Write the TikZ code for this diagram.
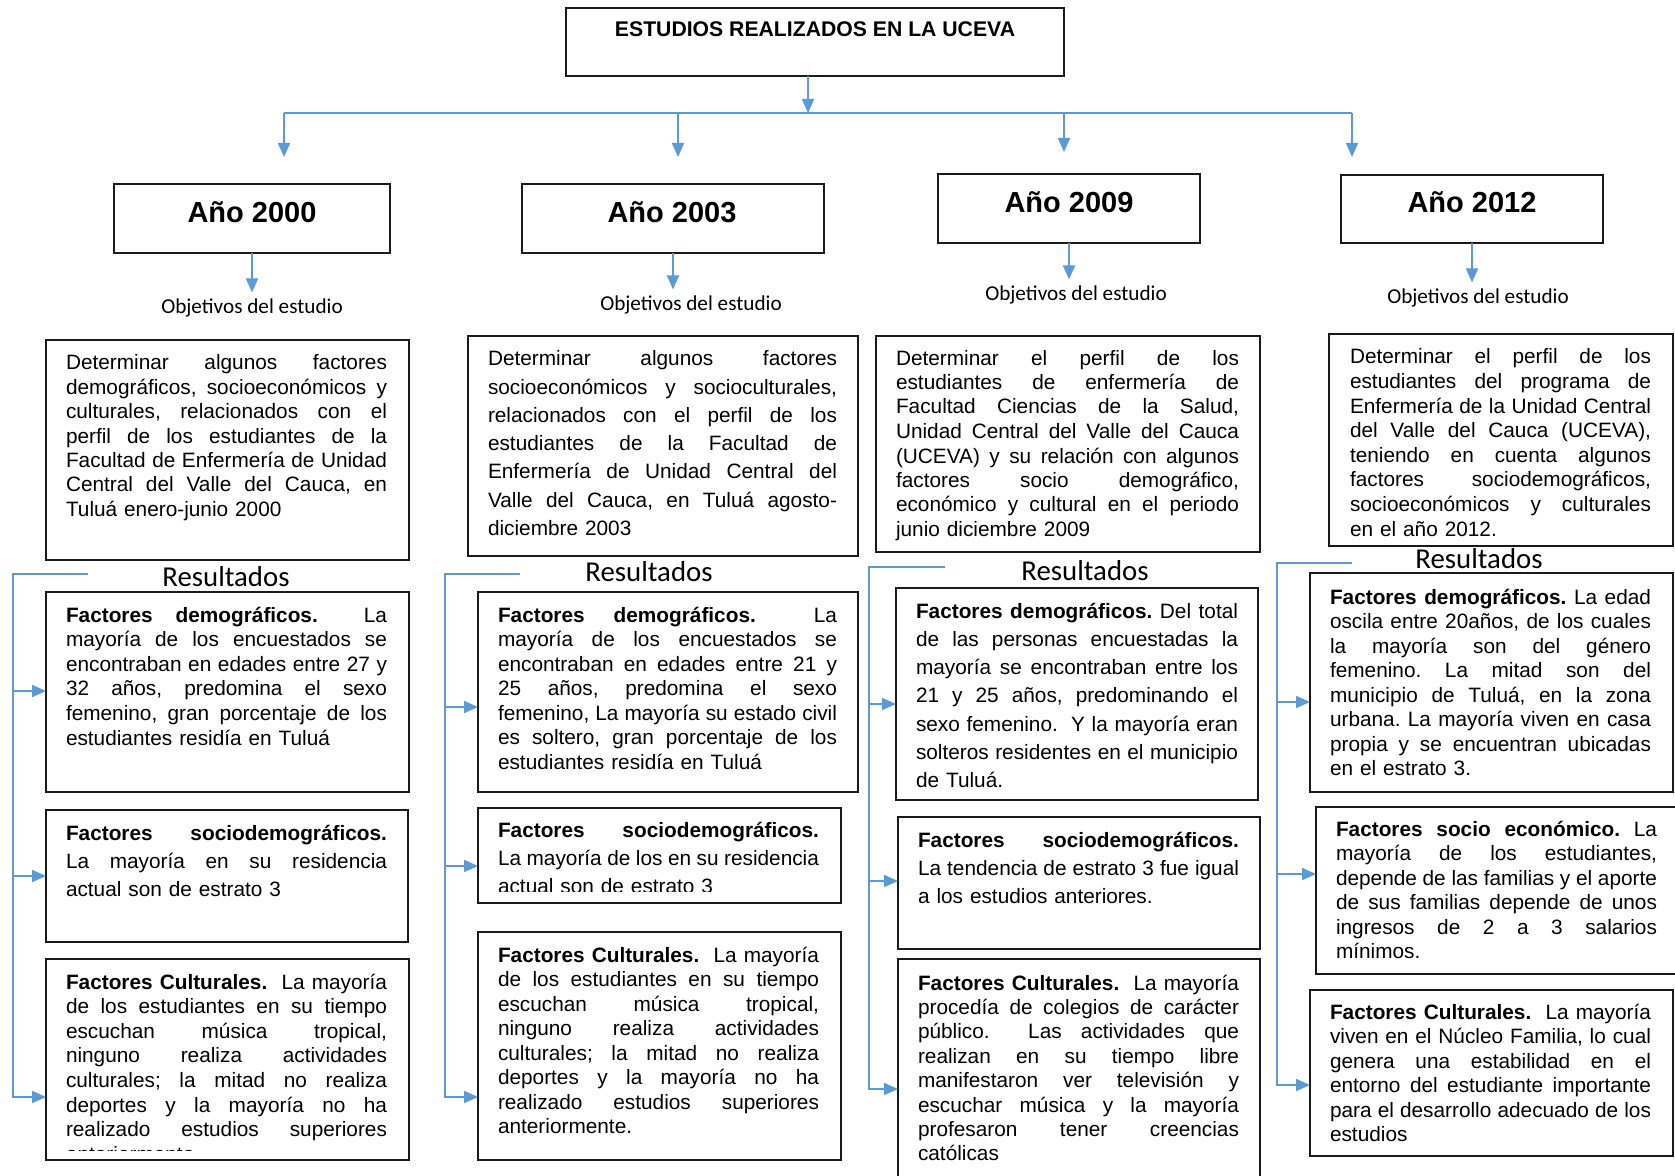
\documentclass[tikz,border=0pt]{standalone}
\usepackage{fontspec}
\setmainfont{Liberation Sans}
\newfontfamily\calib{Carlito}
\usetikzlibrary{arrows.meta}
\definecolor{bl}{HTML}{5B9BD5}
\definecolor{ink}{HTML}{1A1A1A}
\newlength{\jw}
\newcommand{\jline}[1]{\makebox[\jw][s]{\spaceskip=0.278em plus 2em minus 0.06em\relax #1}\\}
\newcommand{\jfirst}[1]{\rule{0pt}{10pt}\jline{#1}}
\newcommand{\drbox}[5]{\node[boxr, minimum width={(#4-#2)*0.5pt}, minimum height={(#5-#3)*0.5pt}] (#1) at (#2,#3) {};}
\tikzset{
  boxr/.style={draw=ink, line width=0.9pt, inner sep=0pt, outer sep=0pt, anchor=north west},
  txt/.style 2 args={inner sep=0pt, outer sep=0pt, anchor=north west, text width=#1,
    execute at begin node={\setlength{\jw}{#1}\frenchspacing},
    font=\fontsize{10.4}{#2}\selectfont},
  yr/.style={font=\fontsize{14.5}{17}\selectfont\bfseries, inner sep=0pt},
  obj/.style={font=\calib\fontsize{10.6}{13}\selectfont, inner sep=3pt},
  res/.style={font=\calib\fontsize{14.4}{17}\selectfont, inner sep=0pt},
  blueln/.style={draw=bl, line width=0.9pt},
  arr/.style={blueln, -{Triangle[length=7pt,width=6pt]}},
}
\begin{document}
\begin{tikzpicture}[x=0.5pt,y=-0.5pt]
\fill[white] (0,0) rectangle (1675,1176);
\useasboundingbox (0,0) rectangle (1675,1176);

% title
\drbox{tit}{566}{8}{1064}{76}
\node[font=\fontsize{10.6}{13}\selectfont\bfseries, inner sep=0pt] (titt) at (815,29) {ESTUDIOS REALIZADOS EN LA UCEVA};

% trunk
\coordinate (tr0) at (808,113);
\coordinate (trL) at (284,113);
\coordinate (tr2) at (678,113);
\coordinate (tr3) at (1064,113);
\coordinate (trR) at (1352,113);
\coordinate (dr1) at (284,157);
\coordinate (dr2) at (678,157);
\coordinate (dr3) at (1064,152);
\coordinate (dr4) at (1352,157);
\draw[arr] (tit.south -| tr0) -- (tr0);
\draw[blueln] (trL) -- (trR);
\draw[arr] (trL) -- (dr1);
\draw[arr] (tr2) -- (dr2);
\draw[arr] (tr3) -- (dr3);
\draw[arr] (trR) -- (dr4);

% year boxes
\drbox{y1}{114}{184}{390}{253}
\drbox{y2}{522}{184}{824}{253}
\drbox{y3}{938}{174}{1200}{243}
\drbox{y4}{1341}{175}{1603}{243}
\node[yr] (y1t) at (252,212) {Año 2000};
\node[yr] (y2t) at (672,212) {Año 2003};
\node[yr] (y3t) at (1069,202) {Año 2009};
\node[yr] (y4t) at (1472,202) {Año 2012};

% objetivos labels
\node[obj] (ob1) at (252,308) {Objetivos del estudio};
\node[obj] (ob2) at (691,305) {Objetivos del estudio};
\node[obj] (ob3) at (1076,295) {Objetivos del estudio};
\node[obj] (ob4) at (1478,298) {Objetivos del estudio};
\draw[arr] (y1.south) -- (y1.south |- ob1.north);
\draw[arr] (y2.south) -- (y2.south |- ob2.north);
\draw[arr] (y3.south) -- (y3.south |- ob3.north);
\draw[arr] (y4.south) -- (y4.south |- ob4.north);

% objective boxes
\drbox{o1}{46}{340}{409}{560}
\drbox{o2}{468}{336}{858}{556}
\drbox{o3}{876}{336}{1260}{552}
\drbox{o4}{1329}{334}{1673}{546}

\node[txt={160.5pt}{12.2pt}] (to1) at (66,350) {\jfirst{Determinar algunos factores}\jline{demográficos, socioeconómicos y}\jline{culturales, relacionados con el}\jline{perfil de los estudiantes de la}\jline{Facultad de Enfermería de Unidad}\jline{Central del Valle del Cauca, en}Tuluá enero-junio 2000};

\node[txt={174.5pt}{14.1pt}] (to2) at (488,346) {\jfirst{Determinar algunos factores}\jline{socioeconómicos y socioculturales,}\jline{relacionados con el perfil de los}\jline{estudiantes de la Facultad de}\jline{Enfermería de Unidad Central del}\jline{Valle del Cauca, en Tuluá agosto-}diciembre 2003};

\node[txt={171.5pt}{12.25pt}] (to3) at (896,345) {\jfirst{Determinar el perfil de los}\jline{estudiantes de enfermería de}\jline{Facultad Ciencias de la Salud,}\jline{Unidad Central del Valle del Cauca}\jline{(UCEVA) y su relación con algunos}\jline{factores socio demográfico,}\jline{económico y cultural en el periodo}junio diciembre 2009};

\node[txt={150.5pt}{12.3pt}] (to4) at (1350,344) {\jfirst{Determinar el perfil de los}\jline{estudiantes del programa de}\jline{Enfermería de la Unidad Central}\jline{del Valle del Cauca (UCEVA),}\jline{teniendo en cuenta algunos}\jline{factores sociodemográficos,}\jline{socioeconómicos y culturales}en el año 2012.};

% Resultados labels
\node[res] (re1) at (226,577) {Resultados};
\node[res] (re2) at (649,572) {Resultados};
\node[res] (re3) at (1085,571) {Resultados};
\node[res] (re4) at (1479,559) {Resultados};

% result boxes
\drbox{d1}{46}{592}{409}{792}
\drbox{s1}{46}{810}{408}{942}
\drbox{c1}{46}{959}{409}{1160}
\drbox{d2}{478}{592}{858}{792}
\drbox{s2}{478}{808}{841}{903}
\drbox{c2}{478}{932}{841}{1160}
\drbox{d3}{896}{588}{1258}{800}
\drbox{s3}{898}{817}{1260}{949}
\drbox{c3}{898}{959}{1260}{1195}
\drbox{d4}{1310}{573}{1673}{792}
\drbox{s4}{1316}{807}{1690}{974}
\drbox{c4}{1310}{990}{1673}{1156}

% 2000 results text
\node[txt={160.5pt}{12.3pt}] (td1) at (66,602) {\jfirst{\textbf{Factores demográficos.}\ \ La}\jline{mayoría de los encuestados se}\jline{encontraban en edades entre 27 y}\jline{32 años, predomina el sexo}\jline{femenino, gran porcentaje de los}estudiantes residía en Tuluá};
\node[txt={160.5pt}{14.15pt}] (ts1) at (66,820) {\jfirst{\textbf{Factores sociodemográficos.}}\jline{La mayoría en su residencia}actual son de estrato 3};
\begin{scope}
\clip (46,959) rectangle (409,1150);
\node[txt={160.5pt}{12.3pt}] (tc1) at (66,969) {\jfirst{\textbf{Factores Culturales.}\ \ La mayoría}\jline{de los estudiantes en su tiempo}\jline{escuchan música tropical,}\jline{ninguno realiza actividades}\jline{culturales; la mitad no realiza}\jline{deportes y la mayoría no ha}\jline{realizado estudios superiores}anteriormente};
\end{scope}

% 2003 results text
\node[txt={169.5pt}{12.25pt}] (td2) at (498,602) {\jfirst{\textbf{Factores demográficos.}\ \ La}\jline{mayoría de los encuestados se}\jline{encontraban en edades entre 21 y}\jline{25 años, predomina el sexo}\jline{femenino, La mayoría su estado civil}\jline{es soltero, gran porcentaje de los}estudiantes residía en Tuluá};
\begin{scope}
\clip (478,808) rectangle (841,891);
\node[txt={160.5pt}{14.15pt}] (ts2) at (498,817) {\jfirst{\textbf{Factores sociodemográficos.}}\jline{La mayoría de los en su residencia}actual son de estrato 3};
\end{scope}
\node[txt={160.5pt}{12.25pt}] (tc2) at (498,942) {\jfirst{\textbf{Factores Culturales.}\ \ La mayoría}\jline{de los estudiantes en su tiempo}\jline{escuchan música tropical,}\jline{ninguno realiza actividades}\jline{culturales; la mitad no realiza}\jline{deportes y la mayoría no ha}\jline{realizado estudios superiores}anteriormente.};

% 2009 results text
\node[txt={161pt}{14.15pt}] (td3) at (916,598) {\jfirst{\textbf{Factores demográficos.} Del total}\jline{de las personas encuestadas la}\jline{mayoría se encontraban entre los}\jline{21 y 25 años, predominando el}\jline{sexo femenino.\ \ Y la mayoría eran}\jline{solteros residentes en el municipio}de Tuluá.};
\node[txt={160.5pt}{14.15pt}] (ts3) at (918,827) {\jfirst{\textbf{Factores sociodemográficos.}}\jline{La tendencia de estrato 3 fue igual}a los estudios anteriores.};
\node[txt={160.5pt}{12.2pt}] (tc3) at (918,970) {\jfirst{\textbf{Factores Culturales.}\ \ La mayoría}\jline{procedía de colegios de carácter}\jline{público.\ \ Las actividades que}\jline{realizan en su tiempo libre}\jline{manifestaron ver televisión y}\jline{escuchar música y la mayoría}\jline{profesaron tener creencias}católicas};

% 2012 results text
\node[txt={160.5pt}{12.25pt}] (td4) at (1330,584) {\jfirst{\textbf{Factores demográficos.} La edad}\jline{oscila entre 20años, de los cuales}\jline{la mayoría son del género}\jline{femenino. La mitad son del}\jline{municipio de Tuluá, en la zona}\jline{urbana. La mayoría viven en casa}\jline{propia y se encuentran ubicadas}en el estrato 3.};
\node[txt={160.5pt}{12.25pt}] (ts4) at (1336,816) {\jfirst{\textbf{Factores socio económico.} La}\jline{mayoría de los estudiantes,}\jline{depende de las familias y el aporte}\jline{de sus familias depende de unos}\jline{ingresos de 2 a 3 salarios}mínimos.};
\node[txt={160.5pt}{12.25pt}] (tc4) at (1330,999) {\jfirst{\textbf{Factores Culturales.}\ \ La mayoría}\jline{viven en el Núcleo Familia, lo cual}\jline{genera una estabilidad en el}\jline{entorno del estudiante importante}\jline{para el desarrollo adecuado de los}estudios};

% brackets
\coordinate (k1t) at (88,574);  \coordinate (k1c) at (13,574);  \coordinate (k1e) at (13,1097);
\coordinate (a1d) at (13,691);  \coordinate (a1s) at (13,876);
\coordinate (k2t) at (520,574); \coordinate (k2c) at (445,574); \coordinate (k2e) at (445,1097);
\coordinate (a2d) at (445,707); \coordinate (a2s) at (445,866);
\coordinate (k3t) at (945,567); \coordinate (k3c) at (869,567); \coordinate (k3e) at (869,1089);
\coordinate (a3d) at (869,704); \coordinate (a3s) at (869,881);
\coordinate (k4t) at (1352,563); \coordinate (k4c) at (1277,563); \coordinate (k4e) at (1277,1085);
\coordinate (a4d) at (1277,702); \coordinate (a4s) at (1277,874);

\draw[arr] (k1t) -- (k1c) -- (k1e) -- (k1e -| c1.west);
\draw[arr] (a1d) -- (a1d -| d1.west);
\draw[arr] (a1s) -- (a1s -| s1.west);
\draw[arr] (k2t) -- (k2c) -- (k2e) -- (k2e -| c2.west);
\draw[arr] (a2d) -- (a2d -| d2.west);
\draw[arr] (a2s) -- (a2s -| s2.west);
\draw[arr] (k3t) -- (k3c) -- (k3e) -- (k3e -| c3.west);
\draw[arr] (a3d) -- (a3d -| d3.west);
\draw[arr] (a3s) -- (a3s -| s3.west);
\draw[arr] (k4t) -- (k4c) -- (k4e) -- (k4e -| c4.west);
\draw[arr] (a4d) -- (a4d -| d4.west);
\draw[arr] (a4s) -- (a4s -| s4.west);
\end{tikzpicture}
\end{document}
